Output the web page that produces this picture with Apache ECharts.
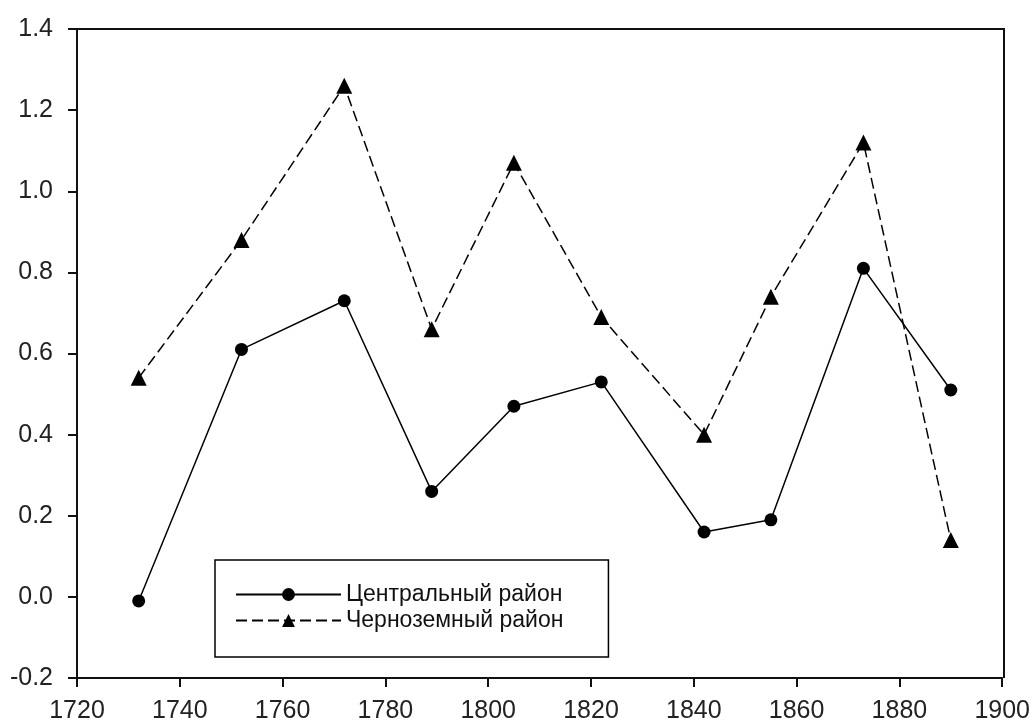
<!DOCTYPE html>
<html lang="ru">
<head>
    <meta charset="utf-8" />
    <title>Центральный и Черноземный район</title>
    <script type="text/javascript" src="https://cdn.jsdelivr.net/npm/echarts@6/dist/echarts.min.js"></script>
    <style>
        body { margin: 0; background: #fff; }
        #chart { width: 1033px; height: 727px; }
    </style>
</head>
<body>
    <div id="chart"></div>
    <script type="text/javascript">
        // годы и значения по районам
        var years = [1732, 1752, 1772, 1789, 1805, 1822, 1842, 1855, 1873, 1890];
        var central = [-0.01, 0.61, 0.73, 0.26, 0.47, 0.53, 0.16, 0.19, 0.81, 0.51];
        var blackEarth = [0.54, 0.88, 1.26, 0.66, 1.07, 0.69, 0.40, 0.74, 1.12, 0.14];
        var seriesNames = ['Центральный район', 'Черноземный район'];

        function pairs(vals) {
            var out = [];
            for (var i = 0; i < years.length; i++) {
                out.push([years[i], vals[i]]);
            }
            return out;
        }

        var chart = echarts.init(document.getElementById('chart'));
        var font = 'Liberation Sans, Arial, sans-serif';

        var option = {
            animation: false,
            backgroundColor: '#fff',
            grid: { left: 77, right: 29, top: 29, bottom: 49 },
            legend: {
                left: 215,
                top: 560,
                orient: 'vertical',
                itemWidth: 105,
                itemHeight: 16,
                itemGap: 3,
                padding: [23, 45, 25, 20],
                borderColor: '#000',
                borderWidth: 1.5,
                textStyle: { fontFamily: font, fontSize: 23, color: '#111', lineHeight: 16 },
                data: seriesNames
            },
            xAxis: {
                type: 'value',
                min: 1720,
                max: 1900,
                interval: 20,
                axisLine: { show: true, onZero: false, lineStyle: { color: '#111', width: 2 } },
                axisTick: { show: true, length: 9, lineStyle: { color: '#111', width: 2 } },
                axisLabel: {
                    margin: 21, fontFamily: font, fontSize: 25, color: '#222',
                    formatter: function (v) { return String(v); }
                },
                splitLine: { show: false }
            },
            yAxis: {
                type: 'value',
                min: -0.2,
                max: 1.4,
                interval: 0.2,
                axisLine: { show: true, onZero: false, lineStyle: { color: '#111', width: 2 } },
                axisTick: { show: true, length: 9, lineStyle: { color: '#111', width: 2 } },
                axisLabel: {
                    margin: 24, fontFamily: font, fontSize: 25, color: '#222',
                    formatter: function (v) { return v.toFixed(1); }
                },
                splitLine: { show: false }
            },
            graphic: [{
                // рамка сверху и справа
                type: 'polyline',
                shape: { points: [[77, 29], [1004, 29], [1004, 678]] },
                style: { stroke: '#111', lineWidth: 2, fill: null }
            }],
            series: [{
                name: seriesNames[0],
                type: 'line',
                data: pairs(central),
                symbol: 'circle',
                symbolSize: 13,
                itemStyle: { color: '#000' },
                lineStyle: { color: '#000', width: 1.5 }
            }, {
                name: seriesNames[1],
                type: 'line',
                data: pairs(blackEarth),
                symbol: 'triangle',
                symbolSize: 16,
                itemStyle: { color: '#000' },
                lineStyle: { color: '#000', width: 1.5, type: [11, 5] }
            }]
        };

        chart.setOption(option);
    </script>
</body>
</html>
